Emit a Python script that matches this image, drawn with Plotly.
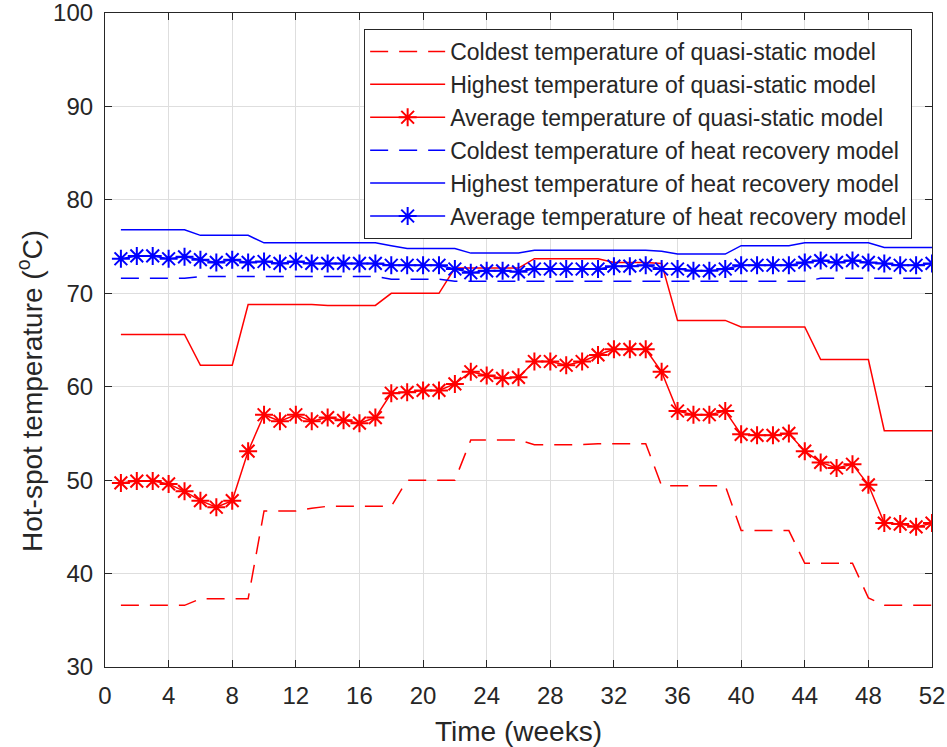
import plotly.graph_objects as go

weeks = list(range(1, 53))

qs_cold = [36.6, 36.6, 36.6, 36.6, 36.6, 37.3, 37.3, 37.3, 37.3, 46.7,
           46.7, 46.7, 47.0, 47.2, 47.2, 47.2, 47.2, 47.2, 50.0, 50.0,
           50.0, 50.0, 54.3, 54.3, 54.3, 54.3, 53.8, 53.8, 53.8, 53.8,
           53.9, 53.9, 53.9, 53.9, 49.4, 49.4, 49.4, 49.4, 49.4, 44.6,
           44.6, 44.6, 44.6, 41.1, 41.1, 41.1, 41.1, 37.4, 36.6, 36.6,
           36.6, 36.6]
qs_high = [65.6, 65.6, 65.6, 65.6, 65.6, 62.3, 62.3, 62.3, 68.8, 68.8,
           68.8, 68.8, 68.8, 68.7, 68.7, 68.7, 68.7, 70.0, 70.0, 70.0,
           70.0, 72.7, 72.7, 72.7, 72.7, 72.7, 73.7, 73.7, 73.7, 73.7,
           73.7, 73.3, 73.3, 73.3, 73.2, 67.1, 67.1, 67.1, 67.1, 66.4,
           66.4, 66.4, 66.4, 66.4, 62.9, 62.9, 62.9, 62.9, 55.3, 55.3,
           55.3, 55.3]
qs_avg = [49.7, 49.9, 49.9, 49.6, 48.8, 47.8, 47.1, 47.8, 53.1, 57.0,
          56.3, 57.0, 56.3, 56.7, 56.4, 56.1, 56.7, 59.3, 59.4, 59.6,
          59.6, 60.3, 61.6, 61.2, 60.9, 61.0, 62.7, 62.7, 62.3, 62.7,
          63.4, 64.0, 64.0, 64.0, 61.6, 57.4, 57.0, 57.0, 57.4, 54.9,
          54.8, 54.8, 55.0, 53.1, 51.9, 51.3, 51.7, 49.5, 45.4, 45.3,
          45.0, 45.4]
hr_cold = [71.6, 71.6, 71.6, 71.6, 71.6, 71.8, 71.8, 71.8, 71.8, 71.8,
           71.8, 71.8, 71.8, 71.8, 71.8, 71.8, 71.8, 71.5, 71.5, 71.5,
           71.5, 71.3, 71.3, 71.3, 71.3, 71.3, 71.3, 71.3, 71.3, 71.3,
           71.3, 71.3, 71.3, 71.3, 71.3, 71.3, 71.3, 71.3, 71.3, 71.3,
           71.3, 71.3, 71.3, 71.3, 71.6, 71.6, 71.6, 71.6, 71.6, 71.6,
           71.6, 71.6]
hr_high = [76.8, 76.8, 76.8, 76.8, 76.8, 76.2, 76.2, 76.2, 76.2, 75.4,
           75.4, 75.4, 75.4, 75.4, 75.4, 75.4, 75.4, 75.1, 74.8, 74.8,
           74.8, 74.8, 74.3, 74.3, 74.3, 74.3, 74.6, 74.6, 74.6, 74.6,
           74.6, 74.6, 74.6, 74.6, 74.5, 74.2, 74.2, 74.2, 74.2, 75.1,
           75.1, 75.1, 75.1, 75.4, 75.4, 75.4, 75.4, 75.4, 74.9, 74.9,
           74.9, 74.9]
hr_avg = [73.7, 74.0, 74.0, 73.7, 73.9, 73.6, 73.3, 73.6, 73.3, 73.4,
          73.2, 73.4, 73.2, 73.2, 73.2, 73.2, 73.2, 73.0, 73.0, 73.0,
          73.0, 72.6, 72.2, 72.4, 72.4, 72.3, 72.6, 72.6, 72.6, 72.6,
          72.6, 72.9, 72.9, 73.0, 72.6, 72.6, 72.4, 72.4, 72.6, 73.0,
          73.0, 73.0, 73.0, 73.3, 73.5, 73.3, 73.5, 73.3, 73.2, 73.0,
          73.0, 73.2]

x_ticks = list(range(0, 53, 4))
y_ticks = list(range(30, 101, 10))

names = [
    "Coldest temperature of quasi-static model",
    "Highest temperature of quasi-static model",
    "Average temperature of quasi-static model",
    "Coldest temperature of heat recovery model",
    "Highest temperature of heat recovery model",
    "Average temperature of heat recovery model",
]
x_title = "Time (weeks)"
y_title = "Hot-spot temperature (<sup>o</sup>C)"

RED = "#ff0000"
BLUE = "#0000ff"
DASH = "18px,11px"
TXT = "#262626"

fig = go.Figure()
series = [
    (qs_cold, RED, DASH, False),
    (qs_high, RED, "solid", False),
    (qs_avg, RED, "solid", True),
    (hr_cold, BLUE, DASH, False),
    (hr_high, BLUE, "solid", False),
    (hr_avg, BLUE, "solid", True),
]
for i, (vals, col, dash, mk) in enumerate(series):
    kw = dict(
        x=weeks, y=vals, name=names[i], legendgroup=f"g{i}",
        line=dict(color=col, width=1.5, dash=dash),
    )
    if mk:
        kw["mode"] = "lines+markers"
        kw["marker"] = dict(symbol="asterisk", size=15, color=col,
                            line=dict(color=col, width=2))
    else:
        kw["mode"] = "lines"
    fig.add_trace(go.Scatter(**kw))

axis_common = dict(
    showgrid=True, gridcolor="#dedede", gridwidth=1,
    showline=True, linecolor=TXT, linewidth=1.2, mirror="ticks",
    ticks="inside", ticklen=7, tickcolor=TXT,
    tickfont=dict(size=24, color=TXT), zeroline=False, automargin=False,
    ticklabeloverflow="allow",
)
fig.update_xaxes(range=[0, 52], tickvals=x_ticks, ticklabelstandoff=7, **axis_common)
fig.update_yaxes(range=[30, 100], tickvals=y_ticks, ticklabelstandoff=6, **axis_common)

fig.add_annotation(text=x_title, xref="paper", yref="paper", x=0.5, y=-0.098,
                   xanchor="center", yanchor="middle", showarrow=False,
                   font=dict(size=28, color=TXT))
fig.add_annotation(text=y_title, xref="paper", yref="paper", x=0, y=0.422,
                   xanchor="center", yanchor="middle", showarrow=False,
                   xshift=-75, textangle=-90, font=dict(size=28, color=TXT))

fig.update_layout(
    width=947, height=747,
    margin=dict(l=105, r=15, t=13, b=80),
    plot_bgcolor="white", paper_bgcolor="white",
    font=dict(family="Liberation Sans, Arial, sans-serif", color=TXT),
    legend=dict(
        x=0.976, y=0.9755, xanchor="right", yanchor="top",
        bgcolor="white", bordercolor=TXT, borderwidth=1,
        font=dict(size=23, color=TXT),
        traceorder="grouped", tracegroupgap=0, itemwidth=75,
    ),
)

fig.write_html("out.html")
